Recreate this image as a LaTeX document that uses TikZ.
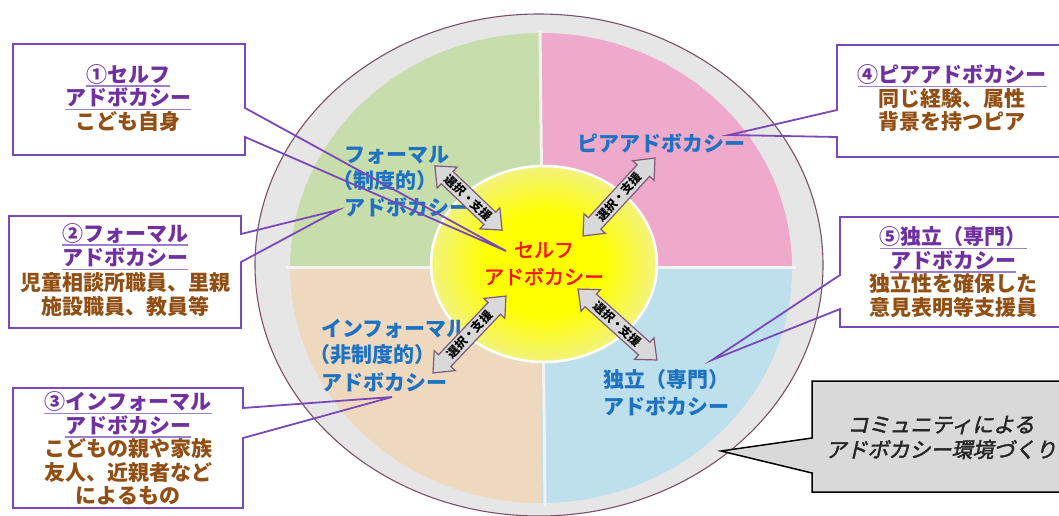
\documentclass[tikz,border=0pt]{standalone}
\usepackage{fontspec}
\setmainfont{Noto Sans CJK JP}
\newfontfamily\jp{Noto Sans CJK JP}
\newfontfamily\jpmed{Noto Sans CJK JP}[FakeBold=2.2]
\newfontfamily\jpit{Noto Sans CJK JP}[FakeSlant=0.22, FakeBold=2]
\usetikzlibrary{calc}
\definecolor{qgreen}{HTML}{C7DDAC}
\definecolor{qpink}{HTML}{EFA9CB}
\definecolor{qpeach}{HTML}{EED9BF}
\definecolor{qblue}{HTML}{BEE0EC}
\definecolor{ringfill}{HTML}{E6E6E6}
\definecolor{ringdraw}{HTML}{7A5068}
\definecolor{gapc}{HTML}{F2F2F2}
\definecolor{labelblue}{HTML}{1F72C2}
\definecolor{selfred}{HTML}{FF1010}
\definecolor{ypale}{HTML}{F3F37E}
\definecolor{arrowfill}{HTML}{D9D9D9}
\definecolor{arrowdraw}{HTML}{7E5A78}
\definecolor{boxc}{HTML}{7A48B8}
\definecolor{headc}{HTML}{7030A0}
\definecolor{ulc}{HTML}{9C80CF}
\definecolor{bodyc}{HTML}{914F14}
\definecolor{callfill}{HTML}{D9D9D9}
\definecolor{calltext}{HTML}{262626}
\pgfdeclareradialshading{yellowglow}{\pgfpointorigin}{color(0bp)=(yellow); color(13bp)=(yellow); color(25bp)=(ypale); color(50bp)=(ypale)}
\newsavebox\hdbox
\newcommand\hdul[1]{\sbox\hdbox{#1}\leavevmode\rlap{\color{ulc}\rule[-4.5pt]{\wd\hdbox}{1.5pt}}\usebox\hdbox}
\newcommand\bodyline[1]{{\color{bodyc}#1}}
\tikzset{
  boxline/.style={draw=boxc, line width=1.8pt, line join=miter},
  boxtext/.style={align=center, text=headc, inner sep=0pt, font=\jp\bfseries\fontsize{21}{23.5}\selectfont},
  qlabel/.style={anchor=west, inner sep=0pt, text=labelblue, font=\jp\bfseries\fontsize{21}{26}\selectfont},
  arrowbody/.style={fill=arrowfill, draw=arrowdraw, line width=1.2pt, line join=miter},
  arrowtext/.style={inner sep=0pt, font=\jp\bfseries\fontsize{12}{12}\selectfont},
}
\newcommand\selarrow[5]{%
  \begin{scope}[shift={(#2,#3)}, rotate=#4]
    \draw[arrowbody] (-#5/2,0) -- (-#5/2+17,14.5) -- (-#5/2+17,8.5) -- (#5/2-17,8.5) -- (#5/2-17,14.5) -- (#5/2,0)
      -- (#5/2-17,-14.5) -- (#5/2-17,-8.5) -- (-#5/2+17,-8.5) -- (-#5/2+17,-14.5) -- cycle;
  \end{scope}
  \node[arrowtext, rotate=#4] (#1) at (#2,#3) {選択・支援};
}
\begin{document}
\begin{tikzpicture}[x=1pt, y=-1pt]
\useasboundingbox (0,0) rectangle (1059,515);
\clip (0,0) rectangle (1059,515);
\fill[white] (0,0) rectangle (1059,515);

% outer ring
\draw[ringdraw, fill=ringfill, line width=1.1pt] (539,265) ellipse[x radius=284pt, y radius=251pt];

% quadrants
\fill[qgreen] (541,268) -- ++(-251,0) arc[start angle=180, end angle=90, x radius=251pt, y radius=235pt] -- cycle;
\fill[qpink]  (541,268) -- ++(0,-235) arc[start angle=90, end angle=0, x radius=251pt, y radius=235pt] -- cycle;
\fill[qblue]  (541,268) -- ++(251,0) arc[start angle=0, end angle=-90, x radius=251pt, y radius=235pt] -- cycle;
\fill[qpeach] (541,268) -- ++(0,235) arc[start angle=270, end angle=180, x radius=251pt, y radius=235pt] -- cycle;
\draw[gapc, line width=3pt] (540,30) -- (545,506);
\draw[gapc, line width=3pt] (286,267) -- (796,267);

% centre
\shade[shading=yellowglow] (544,264) ellipse[x radius=113pt, y radius=98pt];
\draw[white, line width=2.5pt] (544,264) ellipse[x radius=113pt, y radius=98pt];

% quadrant labels
\node[qlabel] (f1) at (344,155) {フォーマル};
\node[qlabel] (f2) at (332,181) {（制度的）};
\node[qlabel] (f3) at (344,207) {アドボカシー};
\node[qlabel] (p1) at (577,143) {ピアアドボカシー};
\node[qlabel] (i1) at (321,329) {インフォーマル};
\node[qlabel] (i2) at (309,355) {（非制度的）};
\node[qlabel] (i3) at (321,382) {アドボカシー};
\node[qlabel] (d1) at (603,380) {独立（専門）};
\node[qlabel] (d2) at (603,406) {アドボカシー};
\node[align=center, inner sep=0pt, text=selfred, font=\jpmed\fontsize{20}{27}\selectfont] (self) at (544,263.5) {セルフ\\アドボカシー};

% arrows
\selarrow{anw}{468.5}{198}{-43.7}{93}
\selarrow{ane}{619}{197}{47.3}{106}
\selarrow{asw}{469.5}{334.5}{46.5}{106}
\selarrow{ase}{617.5}{324.5}{-42}{106}

% pointer tips
\coordinate (t1) at (506,251);
\coordinate (t2) at (338,210);
\coordinate (t3) at (392,397);
\coordinate (t4) at (729,135);
\coordinate (t5) at (712,360);
\coordinate (t6) at (721,451);

% left boxes
\draw[boxline] (13,44) -- (245,44) -- (245,108) -- (t1) -- (245,137) -- (245,155) -- (13,155) -- cycle;
\node[boxtext] (b1) at (128,98) {\hdul{①セルフ}\\\hdul{アドボカシー}\\\bodyline{こども自身}};

\draw[boxline] (9,216) -- (241,216) -- (241,234) -- (t2) -- (241,262) -- (241,328) -- (9,328) -- cycle;
\node[boxtext, font=\jp\bfseries\fontsize{21}{24.5}\selectfont] (b2) at (125,270) {\hdul{②フォーマル}\\\hdul{アドボカシー}\\\bodyline{児童相談所職員、里親}\\\bodyline{施設職員、教員等}};

\draw[boxline] (13,388) -- (243,388) -- (243,408) -- (t3) -- (243,438) -- (243,508) -- (13,508) -- cycle;
\node[boxtext] (b3) at (128,448.5) {\hdul{③インフォーマル}\\\hdul{アドボカシー}\\\bodyline{こどもの親や家族}\\\bodyline{友人、近親者など}\\\bodyline{によるもの}};

% right boxes
\draw[boxline] (1075,45) -- (837,45) -- (837,110) -- (t4) -- (837,137) -- (837,157) -- (1075,157);
\node[boxtext] (b4) at (952,98.5) {\hdul{④ピアアドボカシー}\\\bodyline{同じ経験、属性}\\\bodyline{背景を持つピア}};

\draw[boxline] (1075,217) -- (840,217) -- (840,275) -- (t5) -- (840,309) -- (840,327) -- (1075,327);
\node[boxtext] (b5) at (953,272) {\hdul{⑤独立（専門）}\\\hdul{アドボカシー}\\\bodyline{独立性を確保した}\\\bodyline{意見表明等支援員}};

% callout
\draw[fill=callfill, draw=black, line width=1.5pt, line join=miter] (1075,381) -- (812,381) -- (812,438) -- (t6) -- (812,473) -- (812,492) -- (1075,492) -- cycle;
\node[align=center, inner sep=0pt, text=calltext, font=\jpit\fontsize{21}{25}\selectfont] (call) at (941,437.5) {コミュニティによる\\アドボカシー環境づくり};
\end{tikzpicture}
\end{document}
